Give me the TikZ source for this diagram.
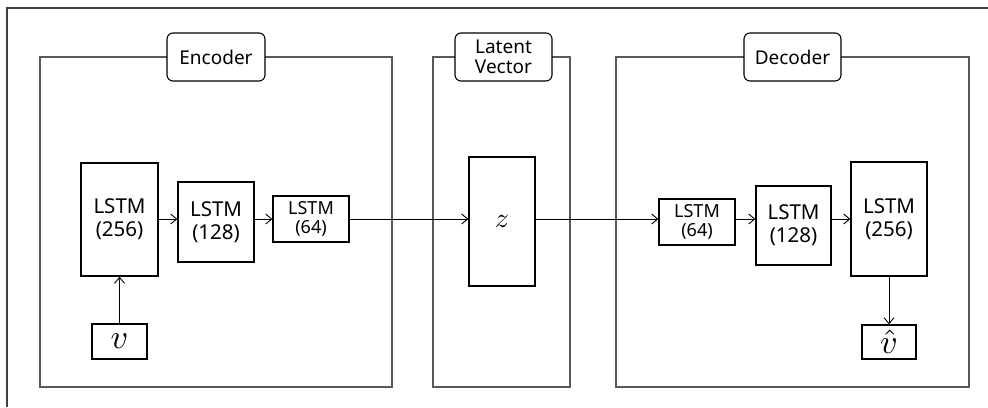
\documentclass[tikz,border=0pt]{standalone}
\usepackage{fontspec}
\setmainfont{Noto Sans}
\usetikzlibrary{arrows.meta}
\tikzset{
  container/.style={draw=black!65, line width=1.1pt},
  title/.style={draw=black, line width=1.1pt, fill=white, rounded corners=6pt, align=center, inner sep=0pt, font=\fontsize{19}{20.5}\selectfont},
  lstm/.style={draw=black, line width=1.3pt, fill=white, align=center, inner sep=0pt, font=\fontsize{20.5}{23}\selectfont},
  lstms/.style={lstm, font=\fontsize{18}{19}\selectfont},
  iobox/.style={draw=black, line width=1.3pt, fill=white, inner sep=0pt},
  flow/.style={draw=black, line width=0.9pt, -{Straight Barb[length=6pt,width=10pt]}}
}
\begin{document}
\begin{tikzpicture}[x=1pt,y=-1pt]
\useasboundingbox (0,0) rectangle (988,407);
% outer frame (cropped)
\draw[draw=black!75, line width=1.8pt] (7,407) -- (7,8) -- (988,8);
% containers
\draw[container] (40,57) rectangle (392,387);
\draw[container] (433,57) rectangle (570,387);
\draw[container] (616,57) rectangle (969,387);
% titles
\node[title, minimum width=98pt, minimum height=48pt] (tenc) at (216,57) {Encoder};
\node[title, minimum width=97pt, minimum height=48pt] (tlat) at (503.5,57) {Latent\\Vector};
\node[title, minimum width=97pt, minimum height=48pt] (tdec) at (792.5,57) {Decoder};
% encoder
\node[lstm, minimum width=77pt, minimum height=113pt] (e256) at (119.5,219.5) {LSTM\\(256)};
\node[lstm, minimum width=76pt, minimum height=80pt] (e128) at (216,222) {LSTM\\(128)};
\node[lstms, minimum width=76pt, minimum height=46pt] (e64) at (311,219) {LSTM\\(64)};
\node[iobox, minimum width=55pt, minimum height=35pt] (v) at (119.5,341.5) {\scalebox{3.4}{$v$}};
% latent
\node[iobox, minimum width=66pt, minimum height=129pt] (z) at (502,221.5) {\scalebox{2.8}{$z$}};
% decoder
\node[lstms, minimum width=76pt, minimum height=46pt] (d64) at (697,222) {LSTM\\(64)};
\node[lstm, minimum width=75pt, minimum height=79pt] (d128) at (793.5,225.5) {LSTM\\(128)};
\node[lstm, minimum width=76pt, minimum height=114pt] (d256) at (889,219) {LSTM\\(256)};
\node[iobox, minimum width=54pt, minimum height=34pt] (vh) at (889,342) {\raisebox{-4pt}{\scalebox{3.4}{$\hat{v}$}}};
% level for horizontal arrows
\coordinate (lvl) at (0,219);
\draw[flow] (e256.east |- lvl) -- (e128.west |- lvl);
\draw[flow] (e128.east |- lvl) -- (e64.west |- lvl);
\draw[flow] (e64.east |- lvl) -- (z.west |- lvl);
\draw[flow] (z.east |- lvl) -- (d64.west |- lvl);
\draw[flow] (d64.east |- lvl) -- (d128.west |- lvl);
\draw[flow] (d128.east |- lvl) -- (d256.west |- lvl);
\draw[flow] (v.north) -- (e256.south);
\draw[flow] (d256.south) -- (vh.north);
\end{tikzpicture}
\end{document}
